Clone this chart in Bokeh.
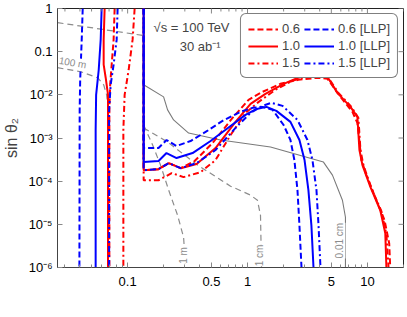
import math
from bokeh.plotting import figure
from bokeh.models import Label, Legend, LegendItem, FixedTicker, Range1d
from bokeh.embed import file_html
from bokeh.resources import INLINE

M_PI0 = 0.136

# ---------------- data (m_H3 in GeV, sin theta_2) ----------------
# left-hand (low-mass) boundaries
left_r06_x = [0.0779, 0.0764, 0.0736, 0.0715, 0.0704, 0.0704]
left_r06_y = [1.0, 0.19, 0.05, 0.0171, 0.00448, 1e-6]
left_r10_x = [0.0643, 0.0631, 0.0631, 0.0656, 0.0686, 0.0686]
left_r10_y = [1.0, 0.19, 0.05, 0.0249, 0.01, 1e-6]
left_r15_x = [0.1144, 0.110, 0.102, 0.0944, 0.0921, 0.0921]
left_r15_y = [1.0, 0.19, 0.0381, 0.01, 0.00153, 1e-6]
left_b06_x = [0.0422, 0.0414, 0.0402, 0.0398, 0.0396]
left_b06_y = [1.0, 0.19, 0.0223, 0.00448, 1e-6]
left_b10_x = [0.0607, 0.0596, 0.0574, 0.0546, 0.0541, 0.0541]
left_b10_y = [1.0, 0.19, 0.0381, 0.01, 0.00153, 1e-6]
left_b15_x = [0.0825, 0.081, 0.0764, 0.0722, 0.0701, 0.0701]
left_b15_y = [1.0, 0.19, 0.05, 0.0171, 0.00448, 1e-6]

# right-hand (island) boundaries, starting at m_pi0
isl_r06_x = [0.136, 0.181, 0.22, 0.277, 0.362, 0.511, 0.75, 1.02, 1.33, 1.88, 2.66, 3.83, 4.64, 5.96, 7.5, 8.25, 8.91, 9.81, 11.7, 13.9, 15.2, 15.5]
isl_r06_y = [1.8e-4, 1.9e-4, 2.62e-4, 2.0e-4, 2.92e-4, 7.65e-4, 2.92e-3, 7.65e-3, 1.17e-2, 1.8e-2, 2.23e-2, 2.49e-2, 2.36e-2, 8.98e-3, 4.03e-3, 2.23e-3, 3.08e-4, 1.38e-4, 4.03e-5, 1.24e-5, 3.61e-6, 1e-6]
isl_r10_x = [0.136, 0.181, 0.22, 0.277, 0.376, 0.541, 0.794, 1.06, 1.41, 2.0, 2.77, 3.69, 4.47, 5.62, 7.22, 8.25, 8.58, 9.09, 10.6, 12.8, 14.1, 14.4]
isl_r10_y = [1.8e-4, 1.9e-4, 2.62e-4, 2.0e-4, 2.49e-4, 5.85e-4, 2.36e-3, 6.18e-3, 1.05e-2, 1.8e-2, 2.62e-2, 3.08e-2, 3.08e-2, 1.11e-2, 5.26e-3, 3.08e-3, 5.26e-4, 2.36e-4, 7.25e-5, 2.12e-5, 6.18e-6, 1e-6]
isl_r15_x = [0.136, 0.181, 0.233, 0.293, 0.406, 0.541, 0.722, 0.962, 1.24, 1.71, 2.37, 3.22, 3.91, 4.55, 5.73, 7.36, 8.41, 8.75, 9.26, 10.8, 13.1, 14.4, 15.0]
isl_r15_y = [1.05e-4, 1.05e-4, 1.54e-4, 1.24e-4, 1.62e-4, 3.08e-4, 1.17e-3, 3.81e-3, 6.87e-3, 1.31e-2, 2.12e-2, 2.77e-2, 3.08e-2, 2.92e-2, 1.11e-2, 5.26e-3, 2.92e-3, 5.26e-4, 2.36e-4, 6.87e-5, 2.0e-5, 5.85e-6, 1e-6]
isl_b06_x = [0.136, 0.181, 0.211, 0.256, 0.335, 0.447, 0.619, 0.874, 1.10, 1.33, 1.62, 2.0, 2.28, 2.46, 2.61, 2.71, 2.82]
isl_b06_y = [5.85e-4, 5.85e-4, 8.98e-4, 6.52e-4, 8.5e-4, 1.38e-3, 2.49e-3, 4.03e-3, 4.99e-3, 5.26e-3, 4.48e-3, 2.0e-3, 9.0e-4, 3.08e-4, 6.18e-5, 9.5e-6, 1e-6]
isl_b10_x = [0.136, 0.181, 0.211, 0.256, 0.348, 0.492, 0.722, 0.962, 1.19, 1.44, 1.74, 2.28, 2.71, 2.99, 3.22, 3.41, 3.55]
isl_b10_y = [2.77e-4, 2.92e-4, 4.48e-4, 3.43e-4, 4.48e-4, 8.51e-4, 1.9e-3, 3.43e-3, 4.72e-3, 5.26e-3, 4.25e-3, 2.36e-3, 9.0e-4, 3.08e-4, 6.18e-5, 9.5e-6, 1e-6]
isl_b15_x = [0.136, 0.181, 0.22, 0.277, 0.376, 0.541, 0.794, 1.06, 1.33, 1.58, 1.96, 2.61, 3.16, 3.48, 3.76, 3.91, 4.06]
isl_b15_y = [1.8e-4, 1.9e-4, 2.62e-4, 2.0e-4, 2.62e-4, 5.26e-4, 1.71e-3, 3.81e-3, 5.55e-3, 6.52e-3, 5.55e-3, 2.62e-3, 9.0e-4, 3.08e-4, 6.18e-5, 9.5e-6, 1e-6]

# decay-length contours (grey)
ct_top_x = [0.026, 0.136]
ct_top_y = [0.472, 0.236]
ct_100m_x = [0.026, 0.0406, 0.0562, 0.0631, 0.0668, 0.0688, 0.0688]
ct_100m_y = [0.0425, 0.0343, 0.0249, 0.0171, 0.01, 0.00448, 1e-6]
ct_1m_x = [0.136, 0.1616, 0.188, 0.22, 0.261, 0.293, 0.304]
ct_1m_y = [0.002, 6.87e-4, 2.36e-4, 6.18e-5, 1.62e-5, 4.99e-6, 1e-6]
ct_1cm_x = [0.136, 0.2154, 0.383, 0.722, 1.06, 1.21, 1.283, 1.308]
ct_1cm_y = [0.00171, 8.07e-4, 2.36e-4, 7.65e-5, 4.75e-5, 3.61e-5, 1.62e-5, 1e-6]
ct_001cm_x = [0.136, 0.136, 0.1995, 0.2154, 0.2417, 0.3225, 0.5957, 1.555, 4.30, 5.11, 6.19, 6.56, 6.56]
ct_001cm_y = [1.0, 0.0171, 0.00898, 0.00448, 0.00262, 0.0013, 8.98e-4, 6.18e-4, 2.77e-4, 1.38e-4, 3.61e-5, 1.46e-5, 1e-6]

x_ticks = [0.1, 0.5, 1, 5, 10]
x_tick_labels = ["0.1", "0.5", "1", "5", "10"]
y_ticks = [1e-6, 1e-5, 1e-4, 1e-3, 1e-2, 0.1, 1]
y_tick_labels = ["10\u207b\u2076", "10\u207b\u2075", "10\u207b\u2074", "10\u207b\u00b3", "10\u207b\u00b2", "0.1", "1"]
x_minor = [0.03, 0.04, 0.05, 0.06, 0.07, 0.08, 0.09, 0.2, 0.3, 0.4, 0.6, 0.7, 0.8, 0.9,
           2, 3, 4, 6, 7, 8, 9, 20]

X_MIN, X_MAX = 0.026, 20
Y_MIN, Y_MAX = 1e-6, 1

FONT = "Liberation Sans"
RED = "#ff0000"
BLUE = "#0000ff"
GREY = "#8c8c8c"

p = figure(width=407, height=317, x_axis_type="log", y_axis_type="log",
           x_range=Range1d(X_MIN, X_MAX), y_range=Range1d(Y_MIN, Y_MAX),
           output_backend="svg", toolbar_location=None,
           min_border_left=57, min_border_right=4, min_border_top=8, min_border_bottom=50)
p.xgrid.visible = False
p.ygrid.visible = False
p.outline_line_color = "#222222"
p.outline_line_width = 1
p.background_fill_color = "white"
p.border_fill_color = "white"

# grey decay-length contours
gd = dict(line_color=GREY, line_width=1.2, line_dash="6 4")
p.line(ct_top_x, ct_top_y, **gd)
p.line(ct_100m_x, ct_100m_y, **gd)
p.line(ct_1m_x, ct_1m_y, **gd)
p.line(ct_1cm_x, ct_1cm_y, **gd)
p.line(ct_001cm_x, ct_001cm_y, line_color="#7a7a7a", line_width=1.1)

W = 2.0
DASH = "6 3"
DOT = "6 3 2 3"


def draw(lx, ly, ix, iy, color, dash):
    kw = dict(line_color=color, line_width=W)
    if dash:
        kw["line_dash"] = dash
    a = p.line(lx, ly, **kw)
    b = p.line([M_PI0] + ix, [Y_MAX] + iy, **kw)
    return [a, b]


r06 = draw(left_r06_x, left_r06_y, isl_r06_x, isl_r06_y, RED, DASH)
r10 = draw(left_r10_x, left_r10_y, isl_r10_x, isl_r10_y, RED, None)
r15 = draw(left_r15_x, left_r15_y, isl_r15_x, isl_r15_y, RED, DOT)
b15 = draw(left_b15_x, left_b15_y, isl_b15_x, isl_b15_y, BLUE, DOT)
b10 = draw(left_b10_x, left_b10_y, isl_b10_x, isl_b10_y, BLUE, None)
b06 = draw(left_b06_x, left_b06_y, isl_b06_x, isl_b06_y, BLUE, DASH)

# axes
xt = FixedTicker(ticks=x_ticks, minor_ticks=x_minor)
yt = FixedTicker(ticks=y_ticks, minor_ticks=[])
p.xaxis.ticker = xt
p.yaxis.ticker = yt
p.xaxis.major_label_overrides = {t: s for t, s in zip(x_ticks, x_tick_labels)}
p.yaxis.major_label_overrides = {t: s for t, s in zip(y_ticks, y_tick_labels)}
for ax in (p.xaxis[0], p.yaxis[0]):
    ax.major_tick_in = 5
    ax.major_tick_out = 0
    ax.minor_tick_in = 3
    ax.minor_tick_out = 0
    ax.major_tick_line_color = "#888888"
    ax.minor_tick_line_color = "#888888"
    ax.axis_line_color = "#444444"
    ax.major_label_text_font = FONT
    ax.major_label_text_font_size = "13px"
    ax.major_label_text_color = "black"
p.xaxis.major_label_standoff = 9
p.yaxis.major_label_standoff = 5
p.yaxis.axis_label = "sin \u03b8\u2082"
p.yaxis.axis_label_text_font = FONT
p.yaxis.axis_label_text_font_size = "16px"
p.yaxis.axis_label_text_font_style = "normal"
p.yaxis.axis_label_standoff = 5

# frame ticks on the right and top edges (same tick values)
p.scatter([X_MAX] * len(y_ticks), y_ticks, marker="dash", size=10, line_color="#888888", line_width=1)
p.scatter(x_ticks, [Y_MAX] * len(x_ticks), marker="dash", angle=math.pi / 2, size=10,
          line_color="#888888", line_width=1)
p.scatter(x_minor, [Y_MAX] * len(x_minor), marker="dash", angle=math.pi / 2, size=6,
          line_color="#888888", line_width=1)

# x-axis label built from pieces (m_{H_3} [GeV])
p.add_layout(Label(x=0.2985, y=1.71e-7, text="m", text_font=FONT, text_font_size="16px",
                   text_font_style="italic", text_align="left", text_baseline="middle"))
p.add_layout(Label(x=0.383, y=1.25e-7, text="H", text_font=FONT, text_font_size="11px",
                   text_font_style="italic", text_align="left", text_baseline="middle"))
p.add_layout(Label(x=0.46, y=1.08e-7, text="3", text_font=FONT, text_font_size="8px",
                   text_align="left", text_baseline="middle"))
p.add_layout(Label(x=0.552, y=1.71e-7, text="[GeV]", text_font=FONT, text_font_size="16px",
                   text_align="left", text_baseline="middle"))

# annotations
p.add_layout(Label(x=0.1647, y=0.361, text="\u221as = 100 TeV", text_font=FONT,
                   text_font_size="13px", text_align="left", text_baseline="middle"))
p.add_layout(Label(x=0.5957, y=0.1306, text="30 ab\u207b\u00b9", text_font=FONT,
                   text_font_size="13px", text_align="right", text_baseline="middle"))

lab = dict(text_font=FONT, text_font_size="10px", text_color=GREY,
           text_align="center", text_baseline="middle",
           background_fill_color="white")
p.add_layout(Label(x=0.0348, y=0.0555, text="100 m", angle=-0.17, **lab))
p.add_layout(Label(x=0.293, y=1.9e-6, text="1 m", angle=math.pi / 2, **lab))
p.add_layout(Label(x=1.26, y=1.9e-6, text="1 cm", angle=math.pi / 2, **lab))
p.add_layout(Label(x=5.9, y=4.2e-6, text="0.01 cm", angle=math.pi / 2, **lab))

legend = Legend(items=[
    LegendItem(label="0.6", renderers=[r06[1]]),
    LegendItem(label="1.0", renderers=[r10[1]]),
    LegendItem(label="1.5", renderers=[r15[1]]),
    LegendItem(label="0.6 [LLP]", renderers=[b06[1]]),
    LegendItem(label="1.0 [LLP]", renderers=[b10[1]]),
    LegendItem(label="1.5 [LLP]", renderers=[b15[1]]),
], location="top_right", orientation="vertical", ncols=2)
legend.label_text_font = FONT
legend.label_text_font_size = "13px"
legend.glyph_width = 30
legend.glyph_height = 14
legend.label_height = 14
legend.label_standoff = 4
legend.spacing = 2
legend.padding = 7
legend.margin = 5
legend.border_line_color = "black"
legend.border_line_width = 1
legend.background_fill_alpha = 1.0
if "border_radius" in Legend.properties():
    legend.border_radius = 6
p.add_layout(legend)

open("out.html", "w").write(file_html(p, INLINE))
